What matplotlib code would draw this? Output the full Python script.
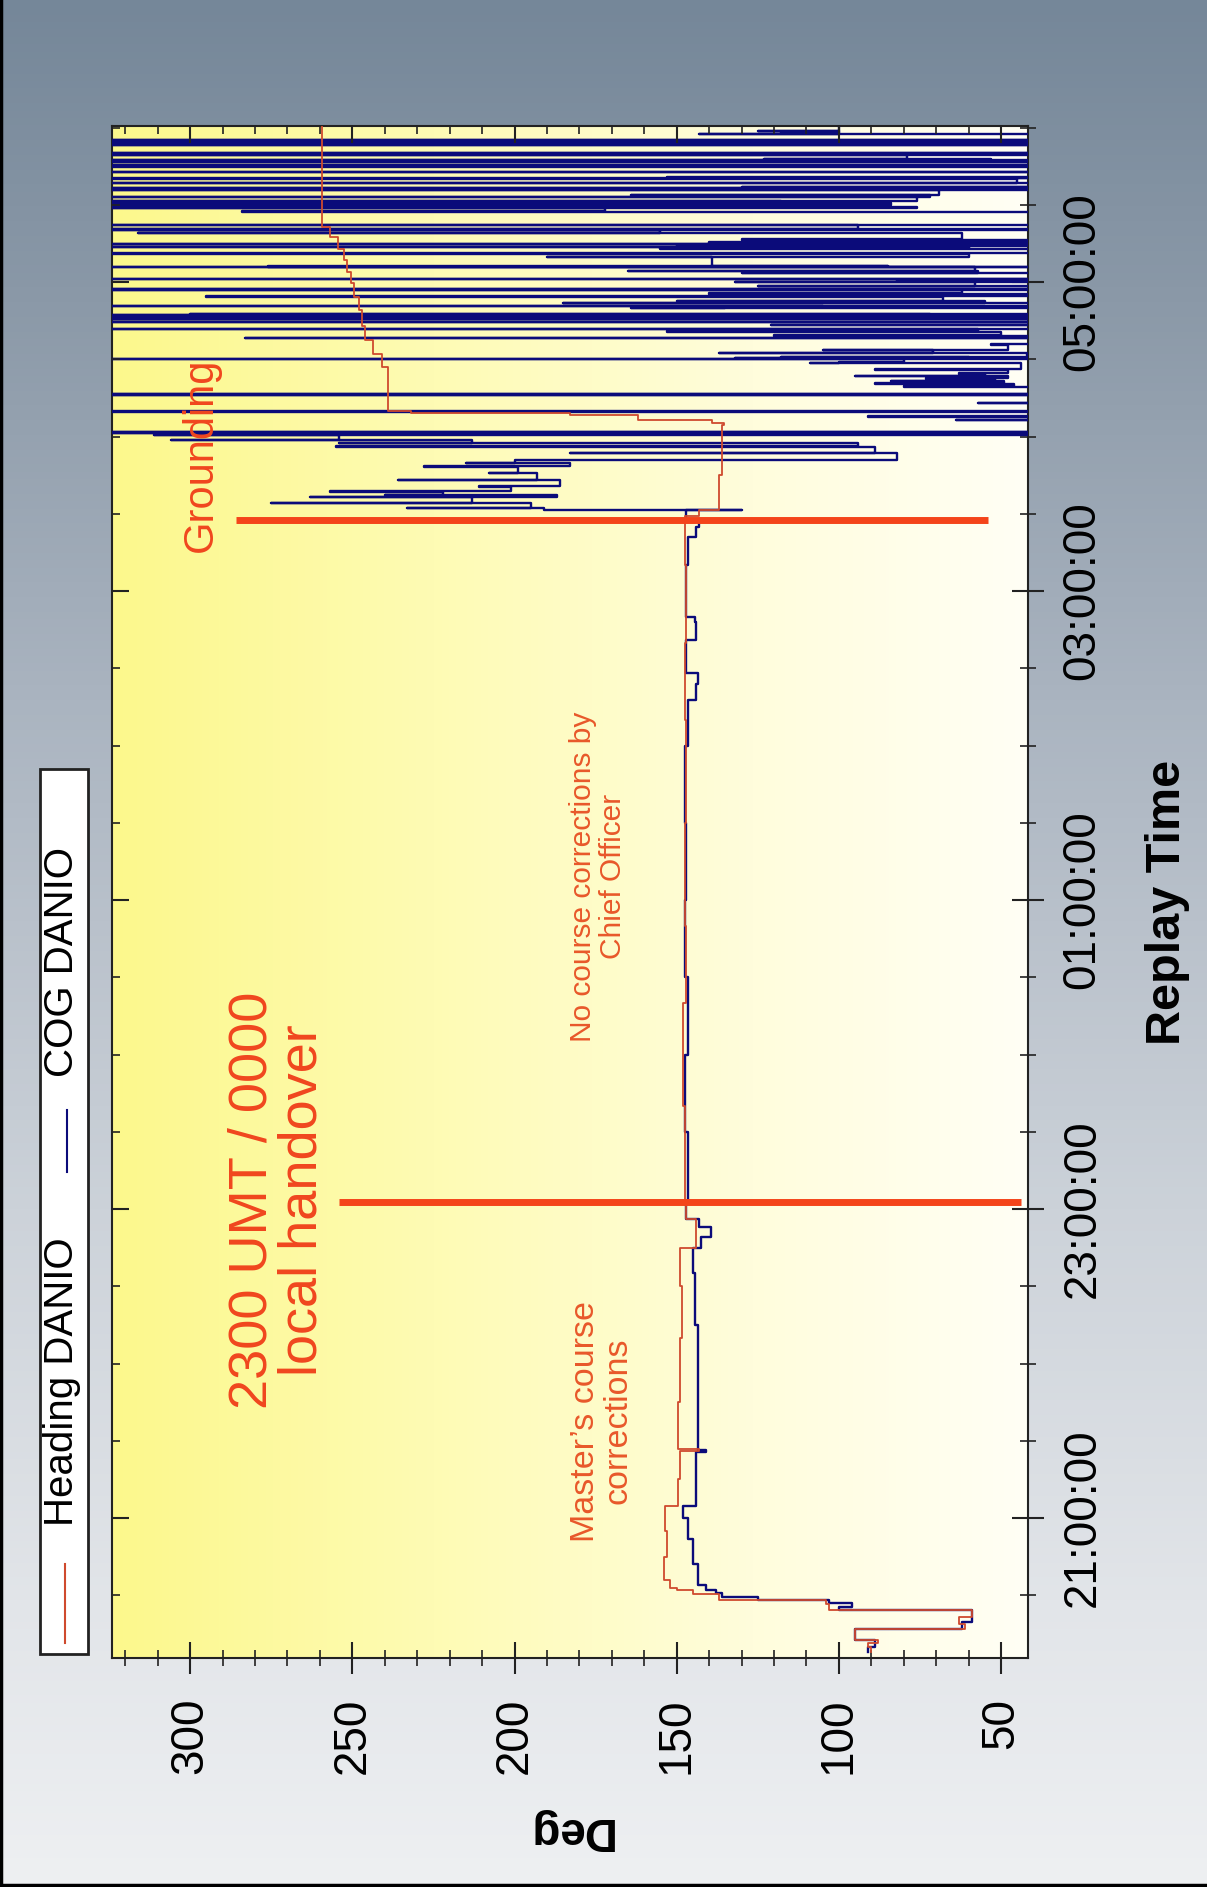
import matplotlib
matplotlib.use("Agg")
import matplotlib.pyplot as plt
import matplotlib.dates as mdates
import numpy as np
from datetime import datetime
from matplotlib.lines import Line2D
from matplotlib.patches import Rectangle
from matplotlib.colors import LinearSegmentedColormap
from matplotlib.ticker import MultipleLocator

plt.rcParams['font.family'] = ['Liberation Sans', 'DejaVu Sans']

# Heading DANIO (time, deg)
hdg_time = ["20:08:00", "20:10:00", "20:11:30", "20:12:40", "20:16:50", "20:19:00", "20:21:30",
            "20:24:20", "20:26:30", "20:28:10", "20:30:30", "20:32:00", "20:33:00", "20:36:00",
            "20:45:00", "20:55:00", "21:04:30", "21:15:00", "21:26:00", "21:26:40", "21:45:00",
            "22:10:00", "22:30:00", "22:45:00", "22:56:00", "23:03:00", "23:40:00", "00:20:00",
            "00:50:00", "01:30:00", "02:10:00", "02:40:00", "03:10:00", "03:27:30", "03:29:00",
            "03:31:30", "03:45:00", "04:04:30", "04:05:10", "04:06:30", "04:08:30", "04:09:00",
            "04:10:00", "04:27:00", "04:32:00", "04:37:30", "04:43:00", "04:49:00", "04:54:00",
            "04:59:30", "05:04:00", "05:08:30", "05:13:00", "05:17:30", "05:21:30", "06:01:00"]
hdg_deg = [90, 91, 88, 95, 61, 63, 59,
           103, 104, 137, 145, 150, 152, 154,
           153, 153.5, 149.5, 149, 143, 149.5, 149,
           148.5, 149, 144, 147, 147.5, 148, 147,
           147.5, 147, 147.5, 147, 147.5, 147.5, 143,
           137, 136, 135.5, 139, 162, 183, 232,
           239, 241, 243.5, 246, 247, 248, 249.5,
           250.5, 251.5, 252.5, 254.5, 257, 259.5, 260]

# COG DANIO (time, deg); after the grounding the COG swings wildly
cog_time = ["20:08:00", "20:10:00", "20:12:40", "20:16:50", "20:19:30", "20:24:20", "20:25:30",
            "20:27:00", "20:28:10", "20:29:30", "20:31:00", "20:32:00", "20:34:00", "20:42:00",
            "20:52:00", "21:00:00", "21:04:30", "21:25:30", "21:26:30", "21:50:00", "22:15:00",
            "22:35:00", "22:45:00", "22:49:00", "22:53:00", "22:56:00", "23:03:00", "23:30:00",
            "00:00:00", "00:30:00", "01:00:00", "01:30:00", "02:00:00", "02:17:30", "02:24:00",
            "02:28:00", "02:41:00", "02:48:00", "02:50:00", "03:10:00", "03:21:00", "03:25:00",
            "03:27:30",
            "03:31:30", "03:31:36", "03:32:06", "03:32:12", "03:34:06", "03:34:12", "03:36:36",
            "03:36:42", "03:37:12", "03:37:18", "03:38:36", "03:38:42", "03:40:30", "03:40:36",
            "03:43:06", "03:43:12", "03:45:42", "03:45:48", "03:48:18", "03:48:24", "03:49:36",
            "03:49:42", "03:50:54", "03:51:00", "03:53:30", "03:53:36", "03:56:06", "03:56:12",
            "03:57:24", "03:57:30", "03:58:42", "03:58:48", "04:00:36", "04:00:42",
            "04:01:12", "04:01:18", "04:01:36", "04:01:42",
            "04:06:30", "04:06:36",
            "04:07:42", "04:07:48",
            "04:09:42", "04:09:48", "04:10:00",
            "04:12:54", "04:13:00",
            "04:16:06", "04:16:12", "04:16:24", "04:16:30",
            "04:19:24", "04:19:30",
            "04:20:36", "04:20:42",
            "04:21:30", "04:21:36",
            "04:22:30", "04:22:36",
            "04:23:30", "04:23:36",
            "04:24:24", "04:24:30",
            "04:26:00", "04:26:06",
            "04:28:24", "04:28:30",
            "04:28:42", "04:28:48",
            "04:30:12", "04:30:18",
            "04:30:24", "04:30:30",
            "04:30:42", "04:30:48",
            "04:32:18", "04:32:24",
            "04:33:36", "04:33:42",
            "04:35:42", "04:35:48",
            "04:38:06", "04:38:12",
            "04:39:12", "04:39:18",
            "04:40:42", "04:40:48",
            "04:41:48", "04:41:54",
            "04:43:18", "04:43:24",
            "04:44:30", "04:44:36",
            "04:45:36", "04:45:42",
            "04:45:54", "04:46:00",
            "04:46:18", "04:46:24",
            "04:46:36", "04:46:42",
            "04:47:12", "04:47:18",
            "04:47:36", "04:47:42",
            "04:49:48", "04:49:54",
            "04:50:06", "04:50:12",
            "04:50:36", "04:50:42",
            "04:51:42", "04:51:48",
            "04:52:30", "04:52:36",
            "04:54:18", "04:54:24",
            "04:55:30", "04:55:36",
            "04:56:54", "04:57:00",
            "04:57:18", "04:57:24",
            "04:58:30", "04:58:36",
            "05:00:06", "05:00:12",
            "05:00:30", "05:00:36",
            "05:01:12", "05:01:18",
            "05:03:24", "05:03:30",
            "05:04:12", "05:04:18",
            "05:05:48", "05:05:54",
            "05:06:00", "05:06:06",
            "05:06:18", "05:06:24",
            "05:09:48", "05:09:54",
            "05:11:00", "05:11:06",
            "05:13:00", "05:13:06",
            "05:13:30", "05:13:36",
            "05:14:00", "05:14:06",
            "05:14:36", "05:14:42",
            "05:15:18", "05:15:24",
            "05:16:30", "05:16:36",
            "05:18:54", "05:19:00",
            "05:20:12", "05:20:18",
            "05:20:30", "05:20:36",
            "05:22:00", "05:22:06",
            "05:27:18", "05:27:24",
            "05:28:42", "05:28:48",
            "05:29:18", "05:29:24",
            "05:29:54", "05:30:00",
            "05:30:36", "05:30:42",
            "05:31:18", "05:31:24",
            "05:33:00", "05:33:06",
            "05:33:48", "05:33:54",
            "05:35:42", "05:35:48",
            "05:36:24", "05:36:30",
            "05:36:48", "05:36:54",
            "05:38:30", "05:38:36",
            "05:40:12", "05:40:18",
            "05:40:36", "05:40:42",
            "05:42:42", "05:42:48",
            "05:44:48", "05:44:54",
            "05:45:12", "05:45:18",
            "05:46:36", "05:46:42",
            "05:47:24", "05:47:30",
            "05:47:48", "05:47:54",
            "05:49:18", "05:49:24",
            "05:49:36", "05:49:42",
            "05:50:06", "05:50:12",
            "05:53:12", "05:53:18",
            "05:53:54", "05:54:00",
            "05:54:18", "05:54:24",
            "05:55:06", "05:55:12",
            "05:57:30", "05:57:36",
            "05:58:12", "05:58:18",
            "05:58:30", "05:58:36",
            "06:01:30"]
cog_deg = [91, 89, 95, 62, 59, 100, 96,
           103, 125, 136, 138, 141, 143.5, 145,
           146.5, 148, 144, 141, 143.5, 143.5, 144.5,
           145, 142.5, 139.5, 143, 147, 146.5, 147.5,
           146.5, 147.5, 147, 147.5, 146.5, 144, 143.5,
           147, 144, 144.5, 147, 146.5, 144, 143,
           147,
           130, 191, 233, 195, 275, 213, 263,
           187, 240, 222, 257, 201, 211, 186,
           236, 193, 208, 199, 228, 183, 215,
           200, 161, 82, 183, 89, 255, 94,
           254, 213, 306, 254, 311, 20,
           340, 20, 340, 20,
           64, 20,
           91, 20,
           340, 90, 20,
           57, 20,
           340, 20, 340, 20,
           80, 46,
           89, 49,
           84, 52,
           73, 48,
           95, 55,
           63, 48,
           89, 44,
           109, 60,
           100, 80,
           340, 20,
           132, 60,
           118, 42,
           137, 71,
           105, 48,
           53, 20,
           283, 20,
           120, 50,
           153, 57,
           340, 20,
           121, 20,
           340, 20,
           340, 20,
           316, 20,
           288, 20,
           340, 20,
           340, 72,
           300, 20,
           164, 70,
           135, 105,
           340, 20,
           185, 55,
           150, 68,
           295, 20,
           140, 62,
           340, 20,
           340, 20,
           125, 58,
           132, 20,
           82, 20,
           340, 20,
           130, 57,
           165, 58,
           340, 20,
           276, 85,
           276, 139,
           190, 60,
           340, 20,
           155, 60,
           340, 62,
           150, 42,
           340, 64,
           140, 42,
           130, 62,
           316, 155,
           340, 20,
           340, 94,
           340, 20,
           284, 172,
           340, 76,
           340, 160,
           340, 84,
           340, 118,
           340, 76,
           340, 72,
           164, 69,
           340, 20,
           340, 20,
           130, 20,
           340, 45,
           340, 20,
           153, 20,
           340, 20,
           340, 20,
           340, 20,
           340, 20,
           340, 53,
           123, 79,
           340, 20,
           229, 20,
           340, 20,
           340, 20,
           340, 20,
           340, 20,
           340, 20,
           143, 100,
           118, 100,
           125, 100,
           100]

# event markers
event_time = ["23:02:45", "03:27:36"]
event_from = [254, 286]
event_to = [44, 54]

assert len(cog_time) == len(cog_deg) and len(hdg_time) == len(hdg_deg)


def to_dt(s):
    h, m, sec = (int(v) for v in s.split(':'))
    return datetime(2009, 1, 1 if h >= 12 else 2, h, m, sec)


hdg_t = mdates.date2num([to_dt(s) for s in hdg_time])
cog_t = mdates.date2num([to_dt(s) for s in cog_time])

fig = plt.figure(figsize=(12.07, 18.87), dpi=100)

# grey-blue figure backdrop
bg = fig.add_axes([0, 0, 1, 1], zorder=-10)
bg.axis('off')
cm_bg = LinearSegmentedColormap.from_list('bg', [(0, '#758799'), (0.16, '#8b99a8'), (0.37, '#aab4c0'),
                                                 (0.64, '#ccd2d9'), (0.85, '#e2e5e9'), (1, '#eef0f2')])
bg.imshow(np.linspace(0, 1, 256).reshape(-1, 1), cmap=cm_bg, aspect='auto', extent=[0, 1, 0, 1])
bg.set_xlim(0, 1)
bg.set_ylim(0, 1)

pos = [0.0925, 0.1214, 0.7592, 0.8118]

# yellow plot area gradient
pbg = fig.add_axes(pos, zorder=-5)
pbg.axis('off')
cm_plot = LinearSegmentedColormap.from_list('pl', [(0, '#fcf88c'), (0.35, '#fefbb4'),
                                                   (0.7, '#fffddc'), (1, '#fffff5')])
pbg.imshow(np.linspace(0, 1, 256).reshape(1, -1), cmap=cm_plot, aspect='auto', extent=[0, 1, 0, 1])
pbg.set_xlim(0, 1)
pbg.set_ylim(0, 1)

ax = fig.add_axes(pos)
ax.set_facecolor('none')

ax.plot(cog_deg, cog_t, drawstyle='steps-pre', color='#0b0b7a', lw=1.7, zorder=3)
ax.plot(hdg_deg, hdg_t, drawstyle='steps-pre', color='#cf4a2e', lw=1.3, zorder=4)

for et, a, b in zip(event_time, event_from, event_to):
    d = mdates.date2num(to_dt(et))
    ax.plot([a, b], [d, d], color='#f4441a', lw=5, solid_capstyle='butt', zorder=5)

ax.set_xlim(324.2, 41.7)
ax.set_ylim(mdates.date2num(to_dt("20:05:40")), mdates.date2num(to_dt("06:00:35")))

ax.xaxis.set_major_locator(MultipleLocator(50))
ax.xaxis.set_minor_locator(MultipleLocator(10))
ax.yaxis.set_major_locator(mdates.HourLocator(byhour=[21, 23, 1, 3, 5]))
ax.yaxis.set_minor_locator(mdates.MinuteLocator(byminute=[0, 30]))
ax.yaxis.set_major_formatter(mdates.DateFormatter('%H:%M:%S'))
ax.yaxis.tick_right()

ax.tick_params(which='major', direction='inout', length=23, width=1.5, color='#222222', labelsize=33)
ax.tick_params(which='minor', direction='inout', length=11.5, width=1.2, color='#222222')
ax.tick_params(axis='x', labelrotation=90, pad=17)
ax.tick_params(axis='y', labelrotation=90, pad=12)
for sp in ax.spines.values():
    sp.set_linewidth(1.5)
    sp.set_color('#222222')
for lab in ax.get_yticklabels():
    lab.set_verticalalignment('center')

# inward mirror ticks on the other two sides
axm = fig.add_axes(pos, sharex=ax, sharey=ax, facecolor='none')
axm.xaxis.tick_top()
axm.yaxis.tick_left()
axm.tick_params(which='both', direction='in', color='#222222',
                labeltop=False, labelbottom=False, labelleft=False, labelright=False)
axm.tick_params(which='major', length=12, width=1.5)
axm.tick_params(which='minor', length=6, width=1.2)
for sp in axm.spines.values():
    sp.set_visible(False)

# annotations
red_txt = '#f0461e'
ax.text(296.6, mdates.date2num(to_dt("03:53:00")), 'Grounding', rotation=90, fontsize=30,
        color=red_txt, ha='center', va='center', zorder=6)
ax.text(273, mdates.date2num(to_dt("23:03:30")), '2300 UMT / 0000\nlocal handover', rotation=90,
        fontsize=39, color=red_txt, ha='center', va='center', multialignment='center',
        linespacing=1.0, zorder=6)
ax.text(173, mdates.date2num(to_dt("21:37:40")), 'Master\u2019s course\ncorrections', rotation=90,
        fontsize=24.5, color='#e8582a', ha='center', va='center', multialignment='center',
        linespacing=1.05, zorder=6)
ax.text(174.2, mdates.date2num(to_dt("01:09:00")), 'No course corrections by\nChief Officer',
        rotation=90, fontsize=21.5, color='#e8582a', ha='center', va='center',
        multialignment='center', linespacing=1.1, zorder=6)

fig.text(0.9669, 0.522, 'Replay Time', rotation=90, fontsize=35, fontweight='bold',
         ha='center', va='center')
fig.text(0.4714, 0.0302, 'Deg', rotation=180, fontsize=33, fontweight='bold',
         ha='center', va='center')

# legend (rotated along the left edge)
fig.add_artist(Rectangle((0.0331, 0.1235), 0.0398, 0.469, transform=fig.transFigure,
                         facecolor='white', edgecolor='#222222', lw=2))
fig.add_artist(Line2D([0.0539, 0.0539], [0.1293, 0.1712], transform=fig.transFigure,
                      color='#cf4a2e', lw=1.5))
fig.add_artist(Line2D([0.0555, 0.0555], [0.3789, 0.4118], transform=fig.transFigure,
                      color='#0b0b7a', lw=1.5))
fig.text(0.0514, 0.2676, 'Heading DANIO', rotation=90, fontsize=29, ha='center', va='center')
fig.text(0.0514, 0.4902, 'COG DANIO', rotation=90, fontsize=29, ha='center', va='center')

# dark frame edges of the screenshot
fig.add_artist(Line2D([0.0012, 0.0012], [0, 1], transform=fig.transFigure, color='black', lw=2.5))
fig.add_artist(Line2D([0, 1], [0.0008, 0.0008], transform=fig.transFigure, color='black', lw=2.5))

fig.savefig('out.png', dpi=100)
